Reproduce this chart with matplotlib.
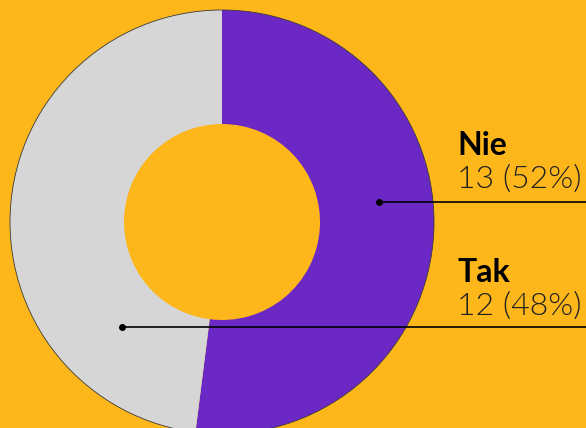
import matplotlib.pyplot as plt
from matplotlib.patches import Circle

# dane
labels = ["Nie", "Tak"]
counts = [13, 12]
colors = ["#6C28C4", "#D6D6D6"]
bg = "#FDB71A"

W, H = 586, 428
fig = plt.figure(figsize=(W / 100, H / 100), dpi=100, facecolor=bg)
ax = fig.add_axes([0, 0, 1, 1])
ax.set_facecolor(bg)

cx, cy = 222, H - 222
r_out, r_in = 212, 98
ax.pie(counts, colors=colors, startangle=90, counterclock=False,
       center=(cx, cy), radius=r_out, frame=True,
       wedgeprops=dict(width=r_out - r_in, linewidth=0))
# cienka obwódka tylko na zewnętrznej krawędzi
ax.add_patch(Circle((cx, cy), r_out, fill=False, edgecolor="#3a3a3a", lw=0.6))
ax.set_xlim(0, W)
ax.set_ylim(0, H)
ax.axis("off")

total = sum(counts)
# pozycje etykiet (x kropki, y linii, y nazwy, y wartości) w pikselach obrazu
anchors = [(379, 202, 155, 188), (122, 327, 282, 315)]
for lab, n, (dx, ly, ny, vy) in zip(labels, counts, anchors):
    ax.plot([dx, W], [H - ly, H - ly], color="black", lw=1.2)
    ax.plot(dx, H - ly, "o", color="black", ms=4)
    ax.text(457, H - ny, lab, fontsize=23, fontweight="bold",
            family="Lato", va="baseline", ha="left", color="black")
    ax.text(457, H - vy, f"{n} ({round(n / total * 100)}%)", fontsize=23,
            fontweight=300, family="Lato", va="baseline", ha="left",
            color="#222222")

fig.savefig("out.png", dpi=100, facecolor=bg)
